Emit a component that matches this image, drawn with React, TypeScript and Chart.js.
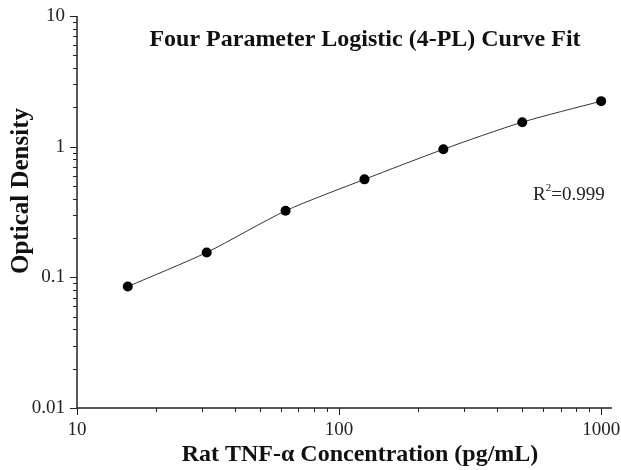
import React, { useEffect, useRef } from "react";
import { Chart, registerables } from "chart.js";

Chart.register(...registerables);

const concentrations = [15.625, 31.25, 62.5, 125, 250, 500, 1000];
const odValues = [0.085, 0.155, 0.323, 0.562, 0.955, 1.54, 2.23];
const xTickLabels = [10, 100, 1000];
const yTickLabels = [0.01, 0.1, 1, 10];
const titleText = "Four Parameter Logistic (4-PL) Curve Fit";
const xTitle = "Rat TNF-\u03b1 Concentration (pg/mL)";
const yTitle = "Optical Density";
const r2Text = "0.999";

const SERIF = "'Liberation Serif', 'Times New Roman', serif";

const decorPlugin = {
  id: "decor",
  afterDraw(chart: any) {
    const ctx = chart.ctx;
    const xs = chart.scales.x;
    const ys = chart.scales.y;
    const left = xs.left;
    const right = xs.right;
    const top = ys.top;
    const bottom = ys.bottom;
    ctx.save();
    ctx.strokeStyle = "#222";
    ctx.lineWidth = 1.5;
    ctx.beginPath();
    ctx.moveTo(left, top);
    ctx.lineTo(left, bottom);
    ctx.lineTo(right, bottom);
    ctx.stroke();
    ctx.lineWidth = 1;
    for (let e = -2; e <= 0; e++) {
      for (let m = 1; m <= 9; m++) {
        const v = m * Math.pow(10, e);
        const py = Math.round(ys.getPixelForValue(v)) + 0.5;
        const len = m === 1 ? 7 : 4;
        ctx.beginPath();
        ctx.moveTo(left - len, py);
        ctx.lineTo(left, py);
        ctx.stroke();
      }
    }
    {
      const py = Math.round(ys.getPixelForValue(10)) + 0.5;
      ctx.beginPath();
      ctx.moveTo(left - 7, py);
      ctx.lineTo(left, py);
      ctx.stroke();
    }
    for (let e = 1; e <= 3; e++) {
      for (let m = 1; m <= 9; m++) {
        const v = m * Math.pow(10, e);
        if (v > 1000) break;
        const px = Math.round(xs.getPixelForValue(v)) + 0.5;
        const len = m === 1 ? 7 : 4;
        ctx.beginPath();
        ctx.moveTo(px, bottom);
        ctx.lineTo(px, bottom + len);
        ctx.stroke();
      }
    }
    ctx.fillStyle = "#222";
    ctx.font = `19px ${SERIF}`;
    ctx.textAlign = "right";
    ctx.textBaseline = "middle";
    yTickLabels.forEach((v) => {
      ctx.fillText(String(v), left - 12, ys.getPixelForValue(v));
    });
    ctx.textAlign = "center";
    ctx.textBaseline = "top";
    xTickLabels.forEach((v) => {
      ctx.fillText(String(v), xs.getPixelForValue(v), bottom + 13);
    });
    ctx.fillStyle = "#111";
    ctx.font = `bold 24px ${SERIF}`;
    ctx.textAlign = "center";
    ctx.textBaseline = "middle";
    ctx.fillText(titleText, 365, 40);
    ctx.fillText(xTitle, 360, 455);
    ctx.save();
    ctx.translate(22, 191);
    ctx.rotate(-Math.PI / 2);
    ctx.font = `bold 25px ${SERIF}`;
    ctx.fillText(yTitle, 0, 0);
    ctx.restore();
    ctx.fillStyle = "#222";
    ctx.font = `19px ${SERIF}`;
    ctx.textAlign = "left";
    ctx.textBaseline = "alphabetic";
    const rx = 533;
    const ry = 200;
    ctx.fillText("R", rx, ry);
    const rw = ctx.measureText("R").width;
    ctx.font = `11px ${SERIF}`;
    ctx.fillText("2", rx + rw, ry - 9);
    const sw = ctx.measureText("2").width;
    ctx.font = `19px ${SERIF}`;
    ctx.fillText("=" + r2Text, rx + rw + sw, ry);
    ctx.restore();
  },
};

export default function App() {
  const ref = useRef<HTMLCanvasElement | null>(null);
  useEffect(() => {
    document.body.style.margin = "0";
    if (!ref.current) return;
    const chart = new Chart(ref.current, {
      type: "scatter",
      data: {
        datasets: [
          {
            data: concentrations.map((x, i) => ({ x, y: odValues[i] })),
            showLine: true,
            borderColor: "#333",
            borderWidth: 1,
            tension: 0.25,
            pointRadius: 5,
            pointBackgroundColor: "#000",
            pointBorderColor: "#000",
            pointBorderWidth: 0,
          },
        ],
      },
      options: {
        animation: false,
        responsive: false,
        devicePixelRatio: 1,
        layout: { padding: { top: 16, right: 9, left: 0, bottom: 0 } },
        plugins: { legend: { display: false }, tooltip: { enabled: false } },
        scales: {
          x: {
            type: "logarithmic",
            min: 10,
            max: 1100,
            grid: { display: false },
            border: { display: false },
            ticks: { display: false },
            afterFit: (s: any) => {
              s.height = 62;
            },
          },
          y: {
            type: "logarithmic",
            min: 0.01,
            max: 10,
            grid: { display: false },
            border: { display: false },
            ticks: { display: false },
            afterFit: (s: any) => {
              s.width = 77;
            },
          },
        },
      },
      plugins: [decorPlugin],
    } as any);
    return () => chart.destroy();
  }, []);
  return <canvas ref={ref} width={621} height={470} style={{ display: "block" }} />;
}
